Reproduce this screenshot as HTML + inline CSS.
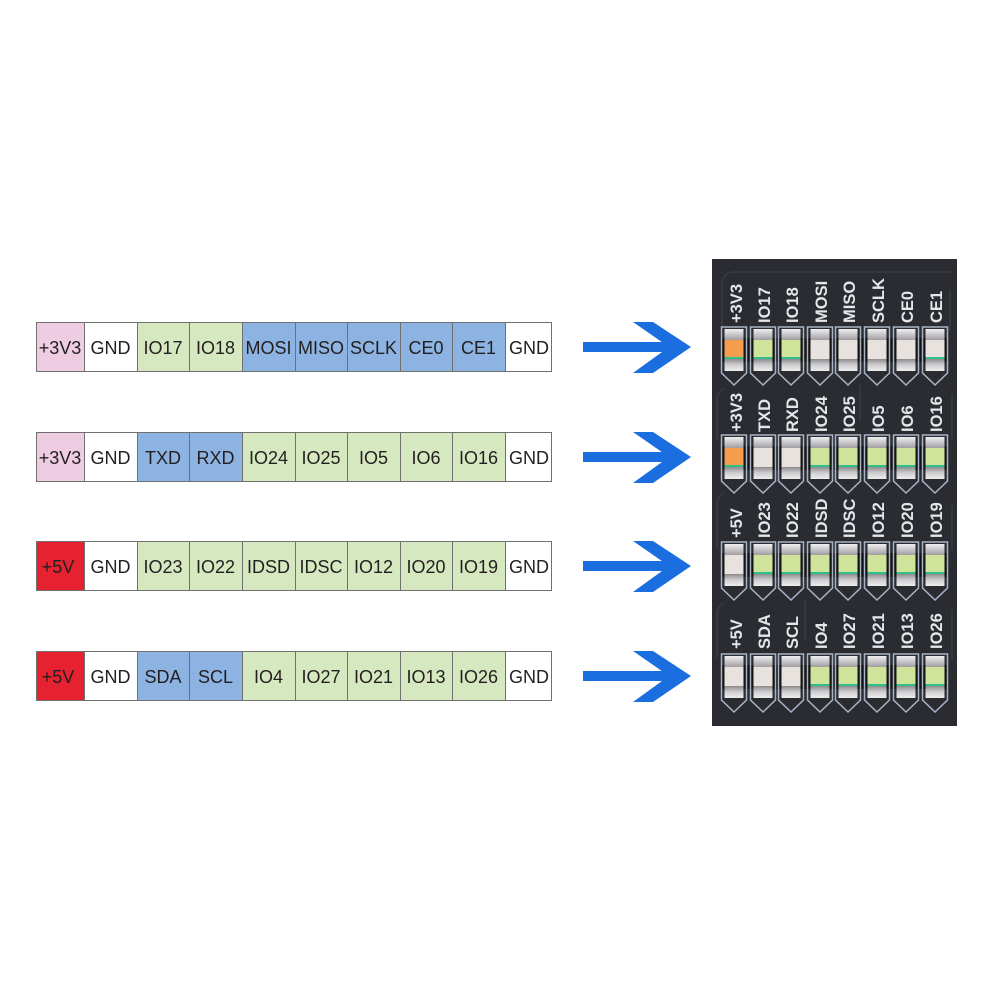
<!DOCTYPE html>
<html>
<head>
<meta charset="utf-8">
<style>
  html,body{margin:0;padding:0;background:#ffffff;}
  body{width:1000px;height:1000px;overflow:hidden;}
  svg{display:block;}
  .t{font-family:"Liberation Sans",sans-serif;font-size:18px;fill:#231f20;text-anchor:middle;}
  .b{font-family:"Liberation Sans",sans-serif;font-weight:bold;font-size:16.5px;fill:#e4e6ea;}
</style>
</head>
<body>
<svg width="1000" height="1000" viewBox="0 0 1000 1000" xmlns="http://www.w3.org/2000/svg">
  <defs>
    <linearGradient id="pad" x1="0" y1="0" x2="0" y2="1">
      <stop offset="0" stop-color="#f0f0f0"/>
      <stop offset="0.45" stop-color="#c8c8cc"/>
      <stop offset="1" stop-color="#9a9698"/>
    </linearGradient>
    <linearGradient id="pad2" x1="0" y1="0" x2="0" y2="1">
      <stop offset="0" stop-color="#8e8a8c"/>
      <stop offset="0.5" stop-color="#cfcfd2"/>
      <stop offset="1" stop-color="#ececec"/>
    </linearGradient>
  </defs>

  <!-- ===== Left tables ===== -->
  <!-- Row 1 -->
  <g transform="translate(0,322)">
    <rect x="36" y="0" width="48" height="50" fill="#eecde3"/>
    <rect x="84" y="0" width="53" height="50" fill="#ffffff"/>
    <rect x="137" y="0" width="52" height="50" fill="#d6e8bf"/>
    <rect x="189" y="0" width="53" height="50" fill="#d6e8bf"/>
    <rect x="242" y="0" width="53" height="50" fill="#8db3e2"/>
    <rect x="295" y="0" width="52" height="50" fill="#8db3e2"/>
    <rect x="347" y="0" width="53" height="50" fill="#8db3e2"/>
    <rect x="400" y="0" width="52" height="50" fill="#8db3e2"/>
    <rect x="452" y="0" width="53" height="50" fill="#8db3e2"/>
    <rect x="505" y="0" width="47" height="50" fill="#ffffff"/>
    <g fill="none" stroke="#707070" stroke-width="1">
      <rect x="36.5" y="0.5" width="515" height="49"/>
      <path d="M84.5 0V50M137.5 0V50M189.5 0V50M242.5 0V50M295.5 0V50M347.5 0V50M400.5 0V50M452.5 0V50M505.5 0V50"/>
    </g>
    <text class="t" x="60" y="32">+3V3</text>
    <text class="t" x="110.5" y="32">GND</text>
    <text class="t" x="163" y="32">IO17</text>
    <text class="t" x="215.5" y="32">IO18</text>
    <text class="t" x="268.5" y="32">MOSI</text>
    <text class="t" x="321" y="32">MISO</text>
    <text class="t" x="373.5" y="32">SCLK</text>
    <text class="t" x="426" y="32">CE0</text>
    <text class="t" x="478.5" y="32">CE1</text>
    <text class="t" x="529" y="32">GND</text>
  </g>

  <!-- Row 2 -->
  <g transform="translate(0,432)">
    <rect x="36" y="0" width="48" height="50" fill="#eecde3"/>
    <rect x="84" y="0" width="53" height="50" fill="#ffffff"/>
    <rect x="137" y="0" width="52" height="50" fill="#8db3e2"/>
    <rect x="189" y="0" width="53" height="50" fill="#8db3e2"/>
    <rect x="242" y="0" width="53" height="50" fill="#d6e8bf"/>
    <rect x="295" y="0" width="52" height="50" fill="#d6e8bf"/>
    <rect x="347" y="0" width="53" height="50" fill="#d6e8bf"/>
    <rect x="400" y="0" width="52" height="50" fill="#d6e8bf"/>
    <rect x="452" y="0" width="53" height="50" fill="#d6e8bf"/>
    <rect x="505" y="0" width="47" height="50" fill="#ffffff"/>
    <g fill="none" stroke="#707070" stroke-width="1">
      <rect x="36.5" y="0.5" width="515" height="49"/>
      <path d="M84.5 0V50M137.5 0V50M189.5 0V50M242.5 0V50M295.5 0V50M347.5 0V50M400.5 0V50M452.5 0V50M505.5 0V50"/>
    </g>
    <text class="t" x="60" y="32">+3V3</text>
    <text class="t" x="110.5" y="32">GND</text>
    <text class="t" x="163" y="32">TXD</text>
    <text class="t" x="215.5" y="32">RXD</text>
    <text class="t" x="268.5" y="32">IO24</text>
    <text class="t" x="321" y="32">IO25</text>
    <text class="t" x="373.5" y="32">IO5</text>
    <text class="t" x="426" y="32">IO6</text>
    <text class="t" x="478.5" y="32">IO16</text>
    <text class="t" x="529" y="32">GND</text>
  </g>

  <!-- Row 3 -->
  <g transform="translate(0,541)">
    <rect x="36" y="0" width="48" height="50" fill="#e62130"/>
    <rect x="84" y="0" width="53" height="50" fill="#ffffff"/>
    <rect x="137" y="0" width="52" height="50" fill="#d6e8bf"/>
    <rect x="189" y="0" width="53" height="50" fill="#d6e8bf"/>
    <rect x="242" y="0" width="53" height="50" fill="#d6e8bf"/>
    <rect x="295" y="0" width="52" height="50" fill="#d6e8bf"/>
    <rect x="347" y="0" width="53" height="50" fill="#d6e8bf"/>
    <rect x="400" y="0" width="52" height="50" fill="#d6e8bf"/>
    <rect x="452" y="0" width="53" height="50" fill="#d6e8bf"/>
    <rect x="505" y="0" width="47" height="50" fill="#ffffff"/>
    <g fill="none" stroke="#707070" stroke-width="1">
      <rect x="36.5" y="0.5" width="515" height="49"/>
      <path d="M84.5 0V50M137.5 0V50M189.5 0V50M242.5 0V50M295.5 0V50M347.5 0V50M400.5 0V50M452.5 0V50M505.5 0V50"/>
    </g>
    <text class="t" x="58" y="32">+5V</text>
    <text class="t" x="110.5" y="32">GND</text>
    <text class="t" x="163" y="32">IO23</text>
    <text class="t" x="215.5" y="32">IO22</text>
    <text class="t" x="268.5" y="32">IDSD</text>
    <text class="t" x="321" y="32">IDSC</text>
    <text class="t" x="373.5" y="32">IO12</text>
    <text class="t" x="426" y="32">IO20</text>
    <text class="t" x="478.5" y="32">IO19</text>
    <text class="t" x="529" y="32">GND</text>
  </g>

  <!-- Row 4 -->
  <g transform="translate(0,651)">
    <rect x="36" y="0" width="48" height="50" fill="#e62130"/>
    <rect x="84" y="0" width="53" height="50" fill="#ffffff"/>
    <rect x="137" y="0" width="52" height="50" fill="#8db3e2"/>
    <rect x="189" y="0" width="53" height="50" fill="#8db3e2"/>
    <rect x="242" y="0" width="53" height="50" fill="#d6e8bf"/>
    <rect x="295" y="0" width="52" height="50" fill="#d6e8bf"/>
    <rect x="347" y="0" width="53" height="50" fill="#d6e8bf"/>
    <rect x="400" y="0" width="52" height="50" fill="#d6e8bf"/>
    <rect x="452" y="0" width="53" height="50" fill="#d6e8bf"/>
    <rect x="505" y="0" width="47" height="50" fill="#ffffff"/>
    <g fill="none" stroke="#707070" stroke-width="1">
      <rect x="36.5" y="0.5" width="515" height="49"/>
      <path d="M84.5 0V50M137.5 0V50M189.5 0V50M242.5 0V50M295.5 0V50M347.5 0V50M400.5 0V50M452.5 0V50M505.5 0V50"/>
    </g>
    <text class="t" x="58" y="32">+5V</text>
    <text class="t" x="110.5" y="32">GND</text>
    <text class="t" x="163" y="32">SDA</text>
    <text class="t" x="215.5" y="32">SCL</text>
    <text class="t" x="268.5" y="32">IO4</text>
    <text class="t" x="321" y="32">IO27</text>
    <text class="t" x="373.5" y="32">IO21</text>
    <text class="t" x="426" y="32">IO13</text>
    <text class="t" x="478.5" y="32">IO26</text>
    <text class="t" x="529" y="32">GND</text>
  </g>

  <!-- ===== Arrows ===== -->
  <g fill="#1a6ee0">
    <g transform="translate(0,347)">
      <rect x="583" y="-5" width="90" height="10"/>
      <polygon points="633,-25 653,-25 691,0 653,26 633,26 669,0"/>
    </g>
    <g transform="translate(0,457)">
      <rect x="583" y="-5" width="90" height="10"/>
      <polygon points="633,-25 653,-25 691,0 653,26 633,26 669,0"/>
    </g>
    <g transform="translate(0,566)">
      <rect x="583" y="-5" width="90" height="10"/>
      <polygon points="633,-25 653,-25 691,0 653,26 633,26 669,0"/>
    </g>
    <g transform="translate(0,676)">
      <rect x="583" y="-5" width="90" height="10"/>
      <polygon points="633,-25 653,-25 691,0 653,26 633,26 669,0"/>
    </g>
  </g>

  <!-- ===== Board ===== -->
  <rect x="712" y="259" width="245" height="467" fill="#2b2c32"/>
  <!-- faint traces -->
  <g fill="none" stroke="#393b43" stroke-width="1.5">
    <path d="M722 330 V285 Q722 272 735 272 H950"/>
    <path d="M717 440 V400 Q717 392 724 388"/>
    <path d="M717 548 V505 Q717 497 724 493"/>
    <path d="M717 658 V615 Q717 607 724 603"/>
    <path d="M950 330 V290"/>
    <path d="M952 440 V395"/>
    <path d="M952 550 V505"/>
    <path d="M952 660 V610"/>
    <path d="M805 600 V640"/>
    <path d="M860 385 V420"/>
  </g>

  <!-- Row 1 frames -->
  <g transform="translate(0,328)">
    <rect x="722" y="10" width="226" height="24" fill="#141414"/>
    <g fill="none" stroke="#a9b3c4" stroke-width="1.5">
      <path d="M721.5 -1 h25 v46 l-12.5 12 l-12.5 -12 z"/>
      <path d="M750.5 -1 h25 v46 l-12.5 12 l-12.5 -12 z"/>
      <path d="M778.5 -1 h25 v46 l-12.5 12 l-12.5 -12 z"/>
      <path d="M807.5 -1 h25 v46 l-12.5 12 l-12.5 -12 z"/>
      <path d="M835.5 -1 h25 v46 l-12.5 12 l-12.5 -12 z"/>
      <path d="M864.5 -1 h25 v46 l-12.5 12 l-12.5 -12 z"/>
      <path d="M893.5 -1 h25 v46 l-12.5 12 l-12.5 -12 z"/>
      <path d="M922.5 -1 h25 v46 l-12.5 12 l-12.5 -12 z"/>
    </g>
  </g>
  <!-- Row 2 frames -->
  <g transform="translate(0,436)">
    <rect x="722" y="10" width="226" height="24" fill="#141414"/>
    <g fill="none" stroke="#a9b3c4" stroke-width="1.5">
      <path d="M721.5 -1 h25 v46 l-12.5 12 l-12.5 -12 z"/>
      <path d="M750.5 -1 h25 v46 l-12.5 12 l-12.5 -12 z"/>
      <path d="M778.5 -1 h25 v46 l-12.5 12 l-12.5 -12 z"/>
      <path d="M807.5 -1 h25 v46 l-12.5 12 l-12.5 -12 z"/>
      <path d="M835.5 -1 h25 v46 l-12.5 12 l-12.5 -12 z"/>
      <path d="M864.5 -1 h25 v46 l-12.5 12 l-12.5 -12 z"/>
      <path d="M893.5 -1 h25 v46 l-12.5 12 l-12.5 -12 z"/>
      <path d="M922.5 -1 h25 v46 l-12.5 12 l-12.5 -12 z"/>
    </g>
  </g>
  <!-- Row 3 frames -->
  <g transform="translate(0,543)">
    <rect x="722" y="10" width="226" height="24" fill="#141414"/>
    <g fill="none" stroke="#a9b3c4" stroke-width="1.5">
      <path d="M721.5 -1 h25 v46 l-12.5 12 l-12.5 -12 z"/>
      <path d="M750.5 -1 h25 v46 l-12.5 12 l-12.5 -12 z"/>
      <path d="M778.5 -1 h25 v46 l-12.5 12 l-12.5 -12 z"/>
      <path d="M807.5 -1 h25 v46 l-12.5 12 l-12.5 -12 z"/>
      <path d="M835.5 -1 h25 v46 l-12.5 12 l-12.5 -12 z"/>
      <path d="M864.5 -1 h25 v46 l-12.5 12 l-12.5 -12 z"/>
      <path d="M893.5 -1 h25 v46 l-12.5 12 l-12.5 -12 z"/>
      <path d="M922.5 -1 h25 v46 l-12.5 12 l-12.5 -12 z"/>
    </g>
  </g>
  <!-- Row 4 frames -->
  <g transform="translate(0,655)">
    <rect x="722" y="10" width="226" height="24" fill="#141414"/>
    <g fill="none" stroke="#a9b3c4" stroke-width="1.5">
      <path d="M721.5 -1 h25 v46 l-12.5 12 l-12.5 -12 z"/>
      <path d="M750.5 -1 h25 v46 l-12.5 12 l-12.5 -12 z"/>
      <path d="M778.5 -1 h25 v46 l-12.5 12 l-12.5 -12 z"/>
      <path d="M807.5 -1 h25 v46 l-12.5 12 l-12.5 -12 z"/>
      <path d="M835.5 -1 h25 v46 l-12.5 12 l-12.5 -12 z"/>
      <path d="M864.5 -1 h25 v46 l-12.5 12 l-12.5 -12 z"/>
      <path d="M893.5 -1 h25 v46 l-12.5 12 l-12.5 -12 z"/>
      <path d="M922.5 -1 h25 v46 l-12.5 12 l-12.5 -12 z"/>
    </g>
  </g>

  <!-- LED bodies -->
  <!-- Row 1: O G G W W W W W -->
  <g transform="translate(0,328)">
    <g transform="translate(734,0)"><rect x="-9.5" y="1" width="19" height="12" fill="url(#pad)"/><rect x="-9.5" y="12" width="19" height="19" fill="#f59d4f"/><rect x="-9.5" y="29" width="19" height="2" fill="#2fc08a"/><rect x="-9.5" y="31" width="19" height="12" fill="url(#pad2)"/></g>
    <g transform="translate(763,0)"><rect x="-9.5" y="1" width="19" height="12" fill="url(#pad)"/><rect x="-9.5" y="12" width="19" height="19" fill="#cfe39b"/><rect x="-9.5" y="29" width="19" height="2" fill="#2fc08a"/><rect x="-9.5" y="31" width="19" height="12" fill="url(#pad2)"/></g>
    <g transform="translate(791,0)"><rect x="-9.5" y="1" width="19" height="12" fill="url(#pad)"/><rect x="-9.5" y="12" width="19" height="19" fill="#cfe39b"/><rect x="-9.5" y="29" width="19" height="2" fill="#2fc08a"/><rect x="-9.5" y="31" width="19" height="12" fill="url(#pad2)"/></g>
    <g transform="translate(820,0)"><rect x="-9.5" y="1" width="19" height="12" fill="url(#pad)"/><rect x="-9.5" y="12" width="19" height="19" fill="#e8e2de"/><rect x="-9.5" y="31" width="19" height="12" fill="url(#pad2)"/></g>
    <g transform="translate(848,0)"><rect x="-9.5" y="1" width="19" height="12" fill="url(#pad)"/><rect x="-9.5" y="12" width="19" height="19" fill="#e8e2de"/><rect x="-9.5" y="31" width="19" height="12" fill="url(#pad2)"/></g>
    <g transform="translate(877,0)"><rect x="-9.5" y="1" width="19" height="12" fill="url(#pad)"/><rect x="-9.5" y="12" width="19" height="19" fill="#e8e2de"/><rect x="-9.5" y="31" width="19" height="12" fill="url(#pad2)"/></g>
    <g transform="translate(906,0)"><rect x="-9.5" y="1" width="19" height="12" fill="url(#pad)"/><rect x="-9.5" y="12" width="19" height="19" fill="#e8e2de"/><rect x="-9.5" y="31" width="19" height="12" fill="url(#pad2)"/></g>
    <g transform="translate(935,0)"><rect x="-9.5" y="1" width="19" height="12" fill="url(#pad)"/><rect x="-9.5" y="12" width="19" height="19" fill="#e8e2de"/><rect x="-9.5" y="29" width="19" height="2" fill="#2fc08a"/><rect x="-9.5" y="31" width="19" height="12" fill="url(#pad2)"/></g>
  </g>
  <!-- Row 2: O W W G G G G G -->
  <g transform="translate(0,436)">
    <g transform="translate(734,0)"><rect x="-9.5" y="1" width="19" height="12" fill="url(#pad)"/><rect x="-9.5" y="12" width="19" height="19" fill="#f59d4f"/><rect x="-9.5" y="29" width="19" height="2" fill="#2fc08a"/><rect x="-9.5" y="31" width="19" height="12" fill="url(#pad2)"/></g>
    <g transform="translate(763,0)"><rect x="-9.5" y="1" width="19" height="12" fill="url(#pad)"/><rect x="-9.5" y="12" width="19" height="19" fill="#e8e2de"/><rect x="-9.5" y="31" width="19" height="12" fill="url(#pad2)"/></g>
    <g transform="translate(791,0)"><rect x="-9.5" y="1" width="19" height="12" fill="url(#pad)"/><rect x="-9.5" y="12" width="19" height="19" fill="#e8e2de"/><rect x="-9.5" y="31" width="19" height="12" fill="url(#pad2)"/></g>
    <g transform="translate(820,0)"><rect x="-9.5" y="1" width="19" height="12" fill="url(#pad)"/><rect x="-9.5" y="12" width="19" height="19" fill="#cfe39b"/><rect x="-9.5" y="29" width="19" height="2" fill="#2fc08a"/><rect x="-9.5" y="31" width="19" height="12" fill="url(#pad2)"/></g>
    <g transform="translate(848,0)"><rect x="-9.5" y="1" width="19" height="12" fill="url(#pad)"/><rect x="-9.5" y="12" width="19" height="19" fill="#cfe39b"/><rect x="-9.5" y="29" width="19" height="2" fill="#2fc08a"/><rect x="-9.5" y="31" width="19" height="12" fill="url(#pad2)"/></g>
    <g transform="translate(877,0)"><rect x="-9.5" y="1" width="19" height="12" fill="url(#pad)"/><rect x="-9.5" y="12" width="19" height="19" fill="#cfe39b"/><rect x="-9.5" y="29" width="19" height="2" fill="#2fc08a"/><rect x="-9.5" y="31" width="19" height="12" fill="url(#pad2)"/></g>
    <g transform="translate(906,0)"><rect x="-9.5" y="1" width="19" height="12" fill="url(#pad)"/><rect x="-9.5" y="12" width="19" height="19" fill="#cfe39b"/><rect x="-9.5" y="29" width="19" height="2" fill="#2fc08a"/><rect x="-9.5" y="31" width="19" height="12" fill="url(#pad2)"/></g>
    <g transform="translate(935,0)"><rect x="-9.5" y="1" width="19" height="12" fill="url(#pad)"/><rect x="-9.5" y="12" width="19" height="19" fill="#cfe39b"/><rect x="-9.5" y="29" width="19" height="2" fill="#2fc08a"/><rect x="-9.5" y="31" width="19" height="12" fill="url(#pad2)"/></g>
  </g>
  <!-- Row 3: W G G G G G G G -->
  <g transform="translate(0,543)">
    <g transform="translate(734,0)"><rect x="-9.5" y="1" width="19" height="12" fill="url(#pad)"/><rect x="-9.5" y="12" width="19" height="19" fill="#e8e2de"/><rect x="-9.5" y="31" width="19" height="12" fill="url(#pad2)"/></g>
    <g transform="translate(763,0)"><rect x="-9.5" y="1" width="19" height="12" fill="url(#pad)"/><rect x="-9.5" y="12" width="19" height="19" fill="#cfe39b"/><rect x="-9.5" y="29" width="19" height="2" fill="#2fc08a"/><rect x="-9.5" y="31" width="19" height="12" fill="url(#pad2)"/></g>
    <g transform="translate(791,0)"><rect x="-9.5" y="1" width="19" height="12" fill="url(#pad)"/><rect x="-9.5" y="12" width="19" height="19" fill="#cfe39b"/><rect x="-9.5" y="29" width="19" height="2" fill="#2fc08a"/><rect x="-9.5" y="31" width="19" height="12" fill="url(#pad2)"/></g>
    <g transform="translate(820,0)"><rect x="-9.5" y="1" width="19" height="12" fill="url(#pad)"/><rect x="-9.5" y="12" width="19" height="19" fill="#cfe39b"/><rect x="-9.5" y="29" width="19" height="2" fill="#2fc08a"/><rect x="-9.5" y="31" width="19" height="12" fill="url(#pad2)"/></g>
    <g transform="translate(848,0)"><rect x="-9.5" y="1" width="19" height="12" fill="url(#pad)"/><rect x="-9.5" y="12" width="19" height="19" fill="#cfe39b"/><rect x="-9.5" y="29" width="19" height="2" fill="#2fc08a"/><rect x="-9.5" y="31" width="19" height="12" fill="url(#pad2)"/></g>
    <g transform="translate(877,0)"><rect x="-9.5" y="1" width="19" height="12" fill="url(#pad)"/><rect x="-9.5" y="12" width="19" height="19" fill="#cfe39b"/><rect x="-9.5" y="29" width="19" height="2" fill="#2fc08a"/><rect x="-9.5" y="31" width="19" height="12" fill="url(#pad2)"/></g>
    <g transform="translate(906,0)"><rect x="-9.5" y="1" width="19" height="12" fill="url(#pad)"/><rect x="-9.5" y="12" width="19" height="19" fill="#cfe39b"/><rect x="-9.5" y="29" width="19" height="2" fill="#2fc08a"/><rect x="-9.5" y="31" width="19" height="12" fill="url(#pad2)"/></g>
    <g transform="translate(935,0)"><rect x="-9.5" y="1" width="19" height="12" fill="url(#pad)"/><rect x="-9.5" y="12" width="19" height="19" fill="#cfe39b"/><rect x="-9.5" y="29" width="19" height="2" fill="#2fc08a"/><rect x="-9.5" y="31" width="19" height="12" fill="url(#pad2)"/></g>
  </g>
  <!-- Row 4: W W W G G G G G -->
  <g transform="translate(0,655)">
    <g transform="translate(734,0)"><rect x="-9.5" y="1" width="19" height="12" fill="url(#pad)"/><rect x="-9.5" y="12" width="19" height="19" fill="#e8e2de"/><rect x="-9.5" y="31" width="19" height="12" fill="url(#pad2)"/></g>
    <g transform="translate(763,0)"><rect x="-9.5" y="1" width="19" height="12" fill="url(#pad)"/><rect x="-9.5" y="12" width="19" height="19" fill="#e8e2de"/><rect x="-9.5" y="31" width="19" height="12" fill="url(#pad2)"/></g>
    <g transform="translate(791,0)"><rect x="-9.5" y="1" width="19" height="12" fill="url(#pad)"/><rect x="-9.5" y="12" width="19" height="19" fill="#e8e2de"/><rect x="-9.5" y="31" width="19" height="12" fill="url(#pad2)"/></g>
    <g transform="translate(820,0)"><rect x="-9.5" y="1" width="19" height="12" fill="url(#pad)"/><rect x="-9.5" y="12" width="19" height="19" fill="#cfe39b"/><rect x="-9.5" y="29" width="19" height="2" fill="#2fc08a"/><rect x="-9.5" y="31" width="19" height="12" fill="url(#pad2)"/></g>
    <g transform="translate(848,0)"><rect x="-9.5" y="1" width="19" height="12" fill="url(#pad)"/><rect x="-9.5" y="12" width="19" height="19" fill="#cfe39b"/><rect x="-9.5" y="29" width="19" height="2" fill="#2fc08a"/><rect x="-9.5" y="31" width="19" height="12" fill="url(#pad2)"/></g>
    <g transform="translate(877,0)"><rect x="-9.5" y="1" width="19" height="12" fill="url(#pad)"/><rect x="-9.5" y="12" width="19" height="19" fill="#cfe39b"/><rect x="-9.5" y="29" width="19" height="2" fill="#2fc08a"/><rect x="-9.5" y="31" width="19" height="12" fill="url(#pad2)"/></g>
    <g transform="translate(906,0)"><rect x="-9.5" y="1" width="19" height="12" fill="url(#pad)"/><rect x="-9.5" y="12" width="19" height="19" fill="#cfe39b"/><rect x="-9.5" y="29" width="19" height="2" fill="#2fc08a"/><rect x="-9.5" y="31" width="19" height="12" fill="url(#pad2)"/></g>
    <g transform="translate(935,0)"><rect x="-9.5" y="1" width="19" height="12" fill="url(#pad)"/><rect x="-9.5" y="12" width="19" height="19" fill="#cfe39b"/><rect x="-9.5" y="29" width="19" height="2" fill="#2fc08a"/><rect x="-9.5" y="31" width="19" height="12" fill="url(#pad2)"/></g>
  </g>

  <!-- Rotated board labels -->
  <g>
    <text class="b" transform="translate(742,323) rotate(-90)">+3V3</text>
    <text class="b" transform="translate(770,323) rotate(-90)">IO17</text>
    <text class="b" transform="translate(798,323) rotate(-90)">IO18</text>
    <text class="b" transform="translate(827,323) rotate(-90)">MOSI</text>
    <text class="b" transform="translate(855,323) rotate(-90)">MISO</text>
    <text class="b" transform="translate(884,323) rotate(-90)">SCLK</text>
    <text class="b" transform="translate(913,323) rotate(-90)">CE0</text>
    <text class="b" transform="translate(942,323) rotate(-90)">CE1</text>
  </g>
  <g>
    <text class="b" transform="translate(742,432) rotate(-90)">+3V3</text>
    <text class="b" transform="translate(770,432) rotate(-90)">TXD</text>
    <text class="b" transform="translate(798,432) rotate(-90)">RXD</text>
    <text class="b" transform="translate(827,432) rotate(-90)">IO24</text>
    <text class="b" transform="translate(855,432) rotate(-90)">IO25</text>
    <text class="b" transform="translate(884,432) rotate(-90)">IO5</text>
    <text class="b" transform="translate(913,432) rotate(-90)">IO6</text>
    <text class="b" transform="translate(942,432) rotate(-90)">IO16</text>
  </g>
  <g>
    <text class="b" transform="translate(742,538) rotate(-90)">+5V</text>
    <text class="b" transform="translate(770,538) rotate(-90)">IO23</text>
    <text class="b" transform="translate(798,538) rotate(-90)">IO22</text>
    <text class="b" transform="translate(827,538) rotate(-90)">IDSD</text>
    <text class="b" transform="translate(855,538) rotate(-90)">IDSC</text>
    <text class="b" transform="translate(884,538) rotate(-90)">IO12</text>
    <text class="b" transform="translate(913,538) rotate(-90)">IO20</text>
    <text class="b" transform="translate(942,538) rotate(-90)">IO19</text>
  </g>
  <g>
    <text class="b" transform="translate(742,649) rotate(-90)">+5V</text>
    <text class="b" transform="translate(770,649) rotate(-90)">SDA</text>
    <text class="b" transform="translate(798,649) rotate(-90)">SCL</text>
    <text class="b" transform="translate(827,649) rotate(-90)">IO4</text>
    <text class="b" transform="translate(855,649) rotate(-90)">IO27</text>
    <text class="b" transform="translate(884,649) rotate(-90)">IO21</text>
    <text class="b" transform="translate(913,649) rotate(-90)">IO13</text>
    <text class="b" transform="translate(942,649) rotate(-90)">IO26</text>
  </g>
</svg>
</body>
</html>
